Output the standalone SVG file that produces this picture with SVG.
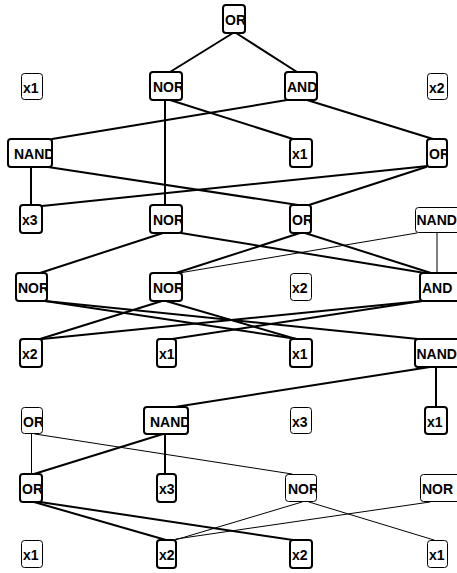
<svg xmlns="http://www.w3.org/2000/svg" width="457" height="573" viewBox="0 0 457 573">
<style>
.e{stroke:#000;fill:none;stroke-linecap:round}
.tk{stroke-width:2}
.tn{stroke-width:1}
.n rect{fill:#fff;stroke:#000;rx:3px;ry:3px}
.n.tk rect{stroke-width:2}
.n.tn rect{stroke-width:1}
.n svg{overflow:hidden}
.n text{font-family:"Liberation Sans",Arial,sans-serif;font-weight:bold;font-size:14px;fill:#000}
</style>
<rect width="457" height="573" fill="#fff"/>
<g id="connectors">
<line class="e tk" x1="233" y1="33" x2="170" y2="72"/>
<line class="e tk" x1="236" y1="33" x2="297" y2="72"/>
<line class="e tk" x1="165" y1="100" x2="165" y2="205"/>
<line class="e tk" x1="170" y1="100" x2="293" y2="139"/>
<line class="e tk" x1="287" y1="100" x2="52" y2="139"/>
<line class="e tk" x1="307" y1="100" x2="433" y2="139"/>
<line class="e tk" x1="31" y1="167" x2="31" y2="205"/>
<line class="e tk" x1="48" y1="167" x2="298" y2="205"/>
<line class="e tk" x1="428" y1="166" x2="42" y2="206"/>
<line class="e tk" x1="426" y1="167" x2="309" y2="205"/>
<line class="e tk" x1="163" y1="233" x2="40" y2="273"/>
<line class="e tk" x1="181" y1="233" x2="425" y2="273"/>
<line class="e tk" x1="300" y1="233" x2="176" y2="273"/>
<line class="e tk" x1="305" y1="233" x2="431" y2="273"/>
<line class="e tn" x1="417" y1="233" x2="179" y2="273"/>
<line class="e tn" x1="437" y1="232" x2="437" y2="273"/>
<line class="e tk" x1="45" y1="301" x2="297" y2="339"/>
<line class="e tk" x1="45" y1="301" x2="418" y2="339"/>
<line class="e tk" x1="162" y1="301" x2="40" y2="339"/>
<line class="e tk" x1="166" y1="301" x2="296" y2="339"/>
<line class="e tk" x1="422" y1="301" x2="42" y2="339"/>
<line class="e tk" x1="422" y1="301" x2="172" y2="339"/>
<line class="e tk" x1="430" y1="367" x2="175" y2="407"/>
<line class="e tk" x1="436" y1="367" x2="436" y2="407"/>
<line class="e tn" x1="31.5" y1="434" x2="31.5" y2="474"/>
<line class="e tn" x1="35" y1="434" x2="292" y2="474"/>
<line class="e tk" x1="163" y1="434" x2="34" y2="474"/>
<line class="e tk" x1="165" y1="434" x2="165" y2="474"/>
<line class="e tk" x1="34" y1="502" x2="166" y2="540"/>
<line class="e tk" x1="40" y1="502" x2="293" y2="540"/>
<line class="e tn" x1="302" y1="502" x2="175" y2="540"/>
<line class="e tn" x1="309" y1="502" x2="434" y2="540"/>
<line class="e tn" x1="430" y1="502" x2="176" y2="539"/>
</g>
<g id="n0" class="n tk"><rect x="223" y="5" width="22" height="28"/><svg x="224" y="6" width="20" height="26"><text x="1" y="19">OR</text></svg></g>
<g id="n1a" class="n tn"><rect x="21.5" y="73.5" width="21" height="26"/><svg x="22" y="74" width="20" height="25"><text x="1" y="19">x1</text></svg></g>
<g id="n1b" class="n tk"><rect x="150" y="72" width="32" height="28"/><svg x="151" y="73" width="30" height="26"><text x="2" y="19">NOR</text></svg></g>
<g id="n1c" class="n tk"><rect x="285" y="72" width="32" height="28"/><svg x="286" y="73" width="30" height="26"><text x="1" y="19">AND</text></svg></g>
<g id="n1d" class="n tn"><rect x="427.5" y="73.5" width="20" height="26"/><svg x="428" y="74" width="19" height="25"><text x="1" y="19">x2</text></svg></g>
<g id="n2a" class="n tk"><rect x="8" y="139" width="44" height="28"/><svg x="9" y="140" width="42" height="26"><text x="5" y="19">NAND</text></svg></g>
<g id="n2b" class="n tk"><rect x="290" y="139" width="22" height="28"/><svg x="291" y="140" width="20" height="26"><text x="1" y="19">x1</text></svg></g>
<g id="n2c" class="n tk"><rect x="427" y="139" width="20" height="28"/><svg x="428" y="140" width="18" height="26"><text x="1" y="19">OR</text></svg></g>
<g id="n3a" class="n tk"><rect x="20" y="205" width="22" height="28"/><svg x="21" y="206" width="20" height="26"><text x="1" y="19">x3</text></svg></g>
<g id="n3b" class="n tk"><rect x="150" y="205" width="32" height="28"/><svg x="151" y="206" width="30" height="26"><text x="2" y="19">NOR</text></svg></g>
<g id="n3c" class="n tk"><rect x="290" y="205" width="21" height="28"/><svg x="291" y="206" width="19" height="26"><text x="1" y="19">OR</text></svg></g>
<g id="n3d" class="n tn"><rect x="415.5" y="207.5" width="46" height="25"/><svg x="416" y="208" width="45" height="24"><text x="0.5" y="17">NAND</text></svg></g>
<g id="n4a" class="n tk"><rect x="16" y="273" width="31" height="28"/><svg x="17" y="274" width="29" height="26"><text x="1" y="19">NOR</text></svg></g>
<g id="n4b" class="n tk"><rect x="150" y="273" width="32" height="28"/><svg x="151" y="274" width="30" height="26"><text x="2" y="19">NOR</text></svg></g>
<g id="n4c" class="n tn"><rect x="290.5" y="273.5" width="21" height="27"/><svg x="291" y="274" width="20" height="26"><text x="1" y="19">x2</text></svg></g>
<g id="n4d" class="n tk"><rect x="420" y="273" width="40" height="28"/><svg x="421" y="274" width="38" height="26"><text x="1" y="19">AND</text></svg></g>
<g id="n5a" class="n tk"><rect x="20" y="339" width="22" height="28"/><svg x="21" y="340" width="20" height="26"><text x="1" y="19">x2</text></svg></g>
<g id="n5b" class="n tk"><rect x="157" y="339" width="19" height="28"/><svg x="158" y="340" width="17" height="26"><text x="1" y="19">x1</text></svg></g>
<g id="n5c" class="n tk"><rect x="290" y="339" width="22" height="28"/><svg x="291" y="340" width="20" height="26"><text x="1" y="19">x1</text></svg></g>
<g id="n5d" class="n tk"><rect x="415" y="339" width="46" height="28"/><svg x="416" y="340" width="44" height="26"><text x="0.5" y="19">NAND</text></svg></g>
<g id="n6a" class="n tn"><rect x="21.5" y="407.5" width="21" height="26"/><svg x="22" y="408" width="20" height="25"><text x="1" y="19">OR</text></svg></g>
<g id="n6b" class="n tk"><rect x="144" y="407" width="44" height="27"/><svg x="145" y="408" width="42" height="25"><text x="5" y="19">NAND</text></svg></g>
<g id="n6c" class="n tn"><rect x="290.5" y="407.5" width="21" height="26"/><svg x="291" y="408" width="20" height="25"><text x="1" y="19">x3</text></svg></g>
<g id="n6d" class="n tk"><rect x="425" y="407" width="22" height="27"/><svg x="426" y="408" width="20" height="25"><text x="1" y="19">x1</text></svg></g>
<g id="n7a" class="n tk"><rect x="20" y="474" width="22" height="28"/><svg x="21" y="475" width="20" height="26"><text x="1" y="19">OR</text></svg></g>
<g id="n7b" class="n tk"><rect x="157" y="474" width="19" height="28"/><svg x="158" y="475" width="17" height="26"><text x="1" y="19">x3</text></svg></g>
<g id="n7c" class="n tn"><rect x="285.5" y="474.5" width="31" height="27"/><svg x="286" y="475" width="30" height="26"><text x="2" y="19">NOR</text></svg></g>
<g id="n7d" class="n tn"><rect x="420.5" y="474.5" width="40" height="27"/><svg x="421" y="475" width="39" height="26"><text x="1" y="19">NOR</text></svg></g>
<g id="n8a" class="n tn"><rect x="21.5" y="540.5" width="21" height="27"/><svg x="22" y="541" width="20" height="26"><text x="1" y="19">x1</text></svg></g>
<g id="n8b" class="n tk"><rect x="157" y="540" width="19" height="28"/><svg x="158" y="541" width="17" height="26"><text x="1" y="19">x2</text></svg></g>
<g id="n8c" class="n tk"><rect x="290" y="540" width="22" height="28"/><svg x="291" y="541" width="20" height="26"><text x="1" y="19">x2</text></svg></g>
<g id="n8d" class="n tn"><rect x="427.5" y="540.5" width="20" height="27"/><svg x="428" y="541" width="19" height="26"><text x="1" y="19">x1</text></svg></g>
</svg>
